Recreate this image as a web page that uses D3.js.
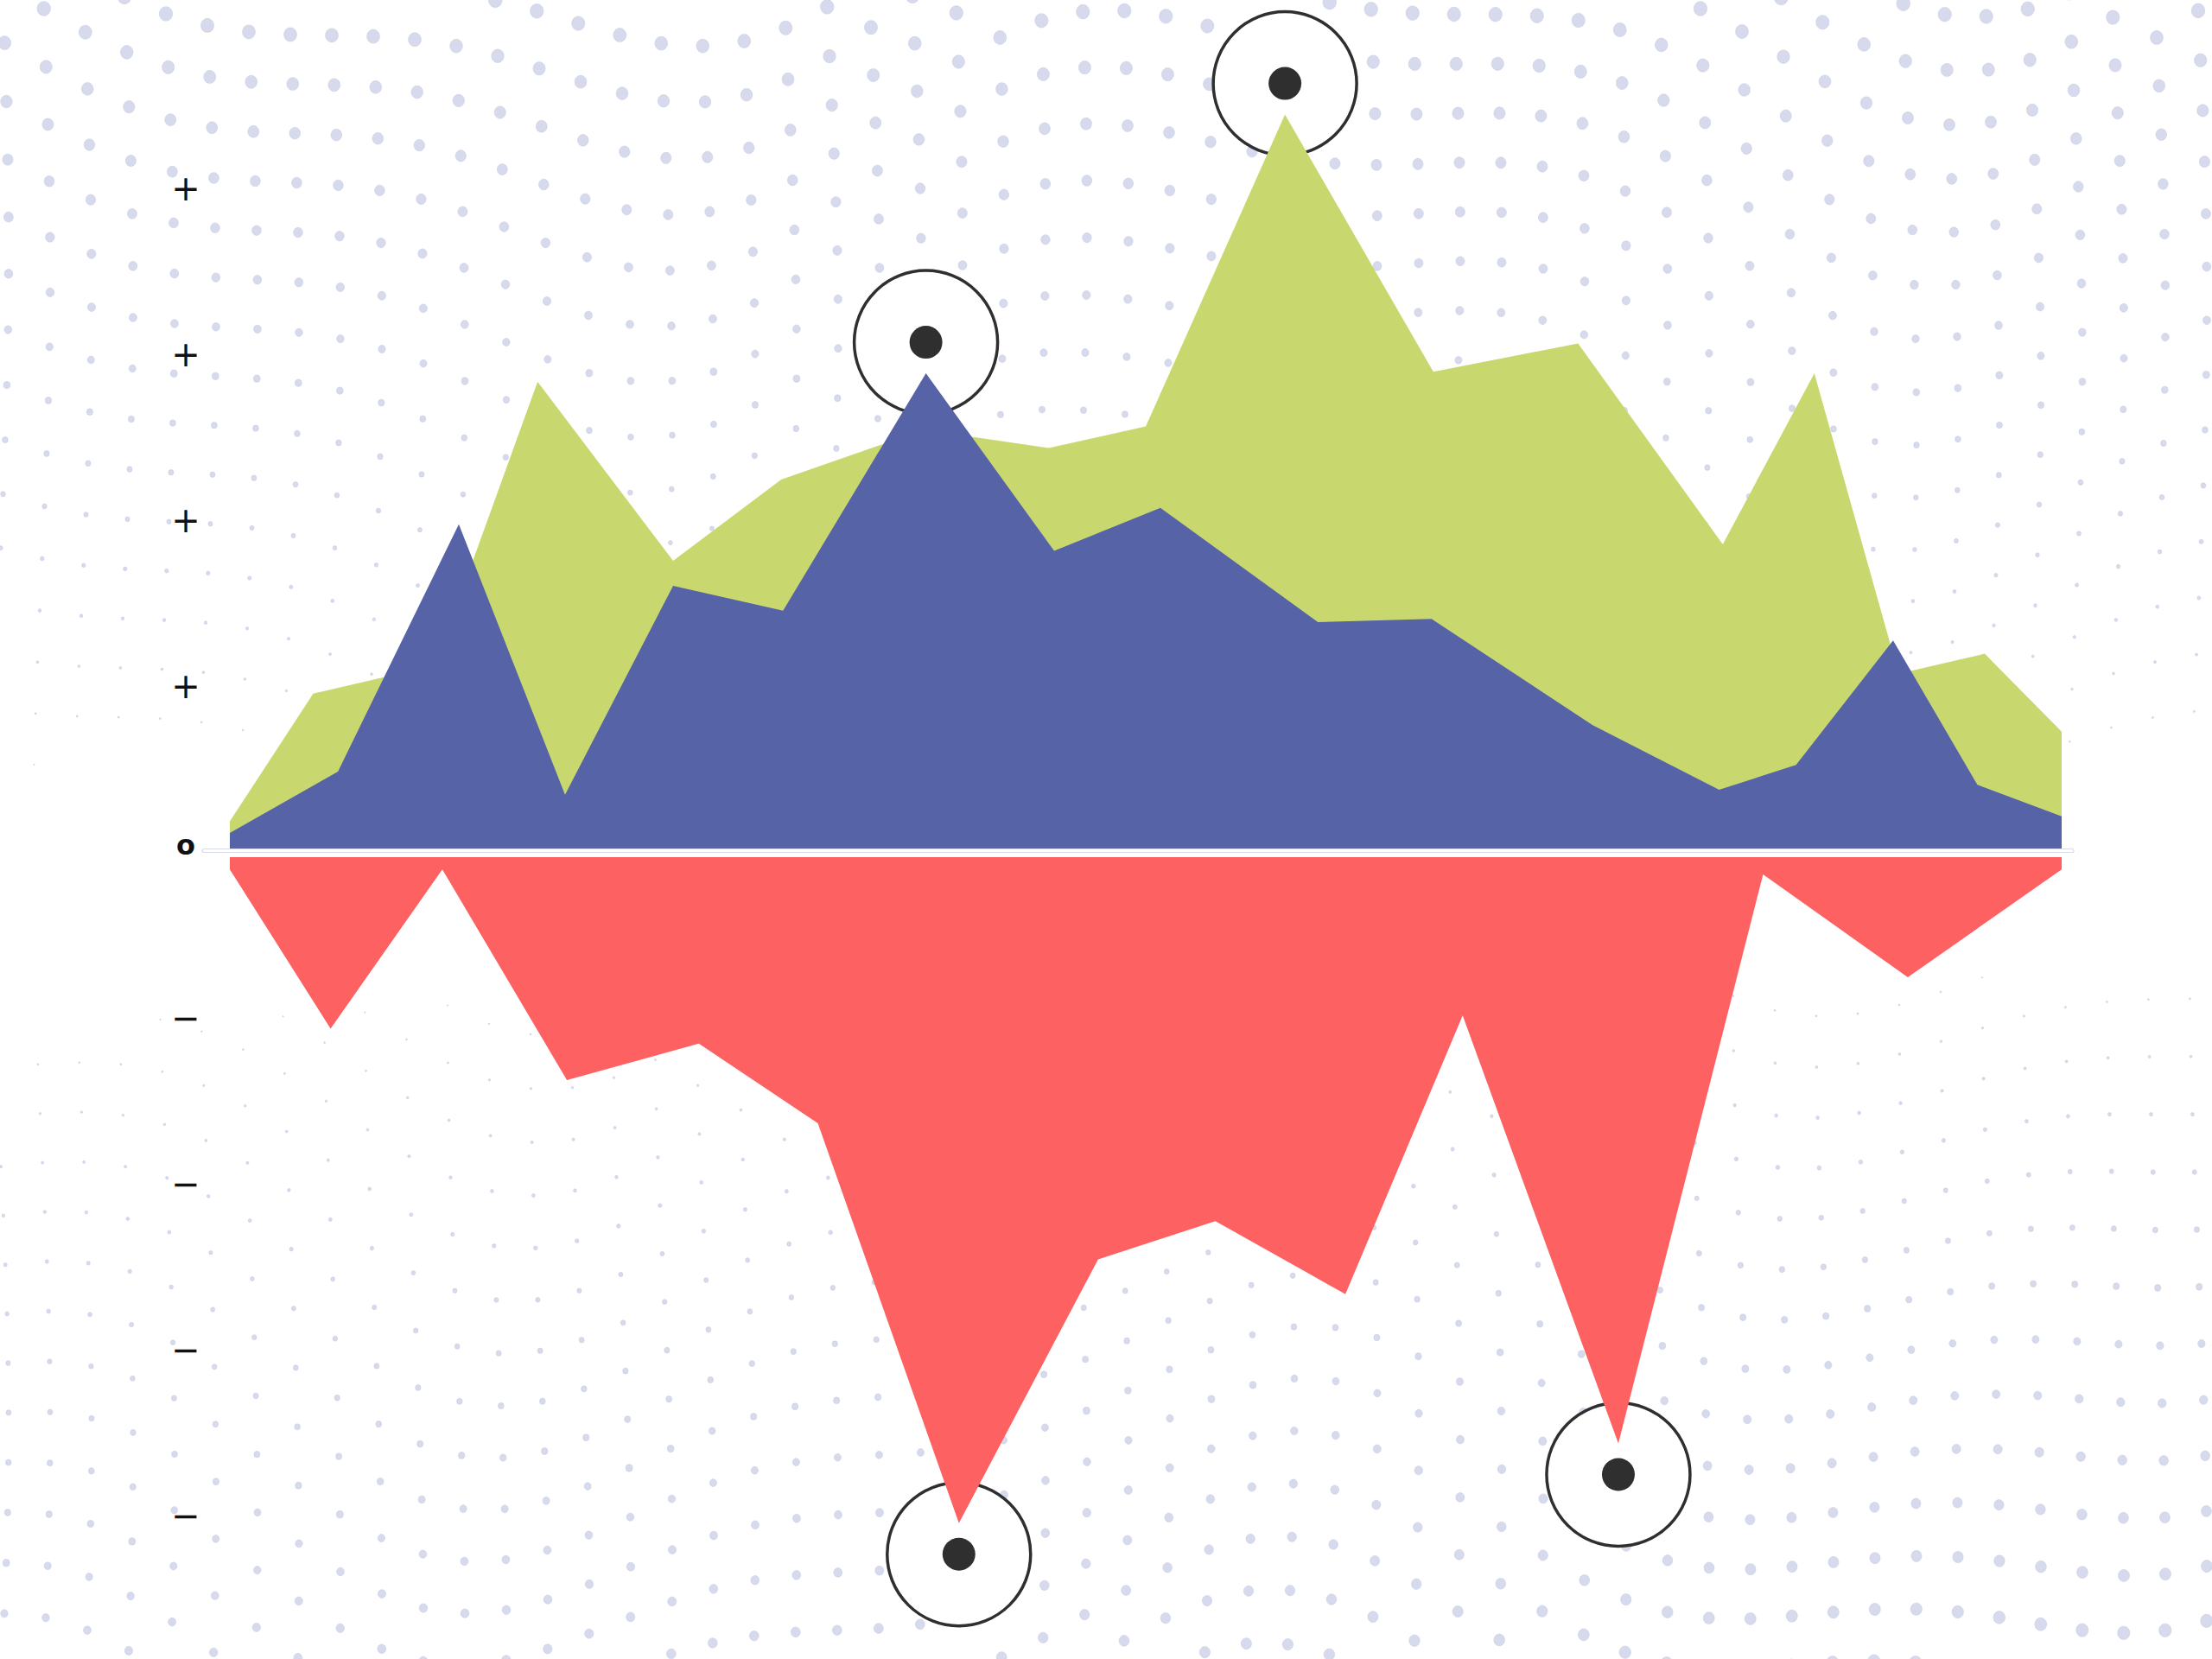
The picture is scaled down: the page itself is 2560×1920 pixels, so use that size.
<!DOCTYPE html>
<html>
<head>
<meta charset="utf-8">
<script src="https://cdn.jsdelivr.net/npm/d3@7"></script>
<style>
  html, body { margin: 0; padding: 0; background: #ffffff; }
  svg { display: block; }
</style>
</head>
<body>
<script>
// ---------- data ----------
// x positions are on a 0–100 scale across the plot
const seriesAX = [0, 4.55, 11.2, 16.8, 24.2, 30.1, 37.9, 44.7, 50.0, 57.6, 65.7, 73.6, 81.5, 86.5, 91.1, 95.8, 100];
const seriesAValues = [0.19, 0.96, 1.13, 2.84, 1.76, 2.25, 2.55, 2.44, 2.57, 4.45, 2.90, 3.07, 1.86, 2.89, 1.08, 1.20, 0.73];

const seriesBX = [0, 5.9, 12.5, 18.3, 24.2, 30.2, 38.0, 45.0, 50.8, 59.4, 65.6, 74.4, 81.3, 85.5, 90.8, 95.4, 100];
const seriesBValues = [0.12, 0.49, 1.98, 0.35, 1.61, 1.46, 2.89, 1.82, 2.08, 1.39, 1.41, 0.77, 0.38, 0.53, 1.28, 0.41, 0.22];

const seriesCX = [0, 5.5, 11.6, 18.4, 25.6, 32.1, 39.8, 47.4, 53.8, 60.9, 67.3, 75.8, 83.7, 91.6, 100];
const seriesCValues = [-0.10, -1.06, -0.10, -1.37, -1.15, -1.63, -4.04, -2.45, -2.22, -2.66, -0.98, -3.56, -0.13, -0.75, -0.10];

const tickValues = [4, 3, 2, 1, 0, -1, -2, -3, -4];
const tickLabels = ["+", "+", "+", "+", "o", "\u2212", "\u2212", "\u2212", "\u2212"];

const colors = { a: "#c9d86e", b: "#5663a7", c: "#fd6162", dot: "#d6daec", mark: "#2f2f2f" };

// ---------- layout ----------
const W = 2560, H = 1920;
const svg = d3.select("body").append("svg").attr("width", W).attr("height", H);

const x = d3.scaleLinear().domain([0, 100]).range([266, 2386]);
const y = d3.scaleLinear().domain([-4, 4]).range([1755, 219]);
const gap = 5;

// ---------- decorative dot field ----------
const dots = [];
const colStep = 48, rowStep = 62;
for (let i = -3; i < W / colStep + 3; i++) {
  for (let j = -3; j < H / rowStep + 4; j++) {
    const bx = i * colStep;
    const by = j * rowStep;
    const px = bx + 10 * Math.sin(2 * Math.PI * by / 1400);
    const py = by + 105 * Math.sin(2 * Math.PI * px / 1600 - 0.98) + 40 * Math.sin(2 * Math.PI * px / 700 + by / 500);
    if (px < -10 || px > W + 10 || py < -10 || py > H + 10) continue;
    let r;
    if (py <= 1050) {
      r = 7.8 * Math.pow((1050 - py) / 1050, 1.3);
    } else {
      r = 7.5 * Math.pow((py - 1000) / 920, 1.15) * (0.6 + 0.4 * px / W);
    }
    if (r < 0.7) continue;
    dots.push({ px, py, r });
  }
}
svg.append("g").selectAll("ellipse").data(dots).join("ellipse")
  .attr("cx", d => d.px).attr("cy", d => d.py)
  .attr("rx", d => d.r).attr("ry", d => d.r * 1.08)
  .attr("fill", colors.dot)
  .attr("stroke", "#c8cce2").attr("stroke-width", 0.6);

// ---------- zero line ----------
svg.append("rect")
  .attr("x", 234).attr("y", y(0) - 4.5)
  .attr("width", 2400 - 234).attr("height", 4)
  .attr("rx", 2)
  .attr("fill", "#ffffff").attr("stroke", "#d9dce8").attr("stroke-width", 1.2);

// ---------- annotation circles (extremes) ----------
const A = seriesAX.map((v, i) => ({ x: v, v: seriesAValues[i] }));
const B = seriesBX.map((v, i) => ({ x: v, v: seriesBValues[i] }));
const C = seriesCX.map((v, i) => ({ x: v, v: seriesCValues[i] }));

const marks = [];
marks.push({ ...A[d3.maxIndex(A, d => d.v)], dir: -1 });
marks.push({ ...B[d3.maxIndex(B, d => d.v)], dir: -1 });
const cSorted = C.slice().sort((p, q) => p.v - q.v);
marks.push({ ...cSorted[0], dir: 1 });
marks.push({ ...cSorted[1], dir: 1 });

const mg = svg.append("g");
mg.selectAll("circle.ring").data(marks).join("circle")
  .attr("class", "ring")
  .attr("cx", d => x(d.x))
  .attr("cy", d => y(d.v) + d.dir * 36)
  .attr("r", 83)
  .attr("fill", "#ffffff")
  .attr("stroke", colors.mark).attr("stroke-width", 3.5);
mg.selectAll("circle.pin").data(marks).join("circle")
  .attr("class", "pin")
  .attr("cx", d => x(d.x))
  .attr("cy", d => y(d.v) + d.dir * 36)
  .attr("r", 19)
  .attr("fill", colors.mark);

// ---------- areas ----------
const areaUp = d3.area().x(d => x(d.x)).y0(y(0) - gap).y1(d => y(d.v));
const areaDown = d3.area().x(d => x(d.x)).y0(y(0) + gap).y1(d => y(d.v));

svg.append("path").datum(A).attr("d", areaUp).attr("fill", colors.a);
svg.append("path").datum(B).attr("d", areaUp).attr("fill", colors.b);
svg.append("path").datum(C).attr("d", areaDown).attr("fill", colors.c);

// ---------- y axis labels ----------
const yAxis = d3.axisLeft(y).tickValues(tickValues)
  .tickFormat((d, i) => tickLabels[i]).tickSize(0).tickPadding(0);
const ag = svg.append("g").attr("transform", "translate(215,0)").call(yAxis);
ag.select(".domain").remove();
ag.selectAll("text")
  .attr("text-anchor", "middle")
  .attr("x", 0)
  .attr("dy", d => d === 0 ? "0.05em" : "0.32em")
  .attr("font-family", "DejaVu Sans, sans-serif")
  .attr("font-size", d => d === 0 ? 32 : 40)
  .attr("font-weight", d => d === 0 ? "bold" : "normal")
  .attr("fill", "#111111");
</script>
</body>
</html>
